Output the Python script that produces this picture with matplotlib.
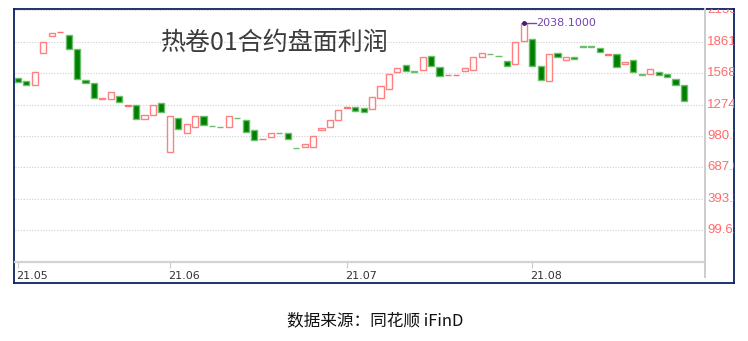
import matplotlib
matplotlib.use("Agg")
import matplotlib.pyplot as plt
import matplotlib.transforms as mtrans
from matplotlib.lines import Line2D
from matplotlib.transforms import blended_transform_factory
from matplotlib import font_manager

# ---------------- data ----------------
title = "热卷01合约盘面利润"
source = "数据来源：同花顺 iFinD"

opens = [1525, 1494, 1457, 1759, 1915, 1950, 1924, 1791, 1504, 1476,
         1323, 1329, 1357, 1265, 1267, 1137, 1174, 1286, 834, 1149,
         1006, 1062, 1165, 1074, 1066, 1067, 1153, 1128, 1034, 953,
         971, 1013, 1006, 873, 881, 881, 1037, 1067, 1130, 1243,
         1249, 1239, 1233, 1338, 1417, 1581, 1647, 1587, 1600, 1725,
         1625, 1546, 1551, 1585, 1600, 1722, 1749, 1732, 1684, 1653,
         1866, 1887, 1635, 1494, 1759, 1695, 1722, 1819, 1817, 1806,
         1742, 1744, 1651, 1691, 1559, 1560, 1578, 1557, 1516, 1454]
closes = [1488, 1460, 1576, 1856, 1946, 1953, 1793, 1510, 1473, 1338,
          1338, 1392, 1295, 1269, 1137, 1174, 1267, 1208, 1163, 1043,
          1097, 1165, 1079, 1070, 1063, 1170, 1149, 1021, 943, 957,
          1009, 1009, 955, 869, 903, 983, 1058, 1130, 1228, 1247,
          1214, 1205, 1342, 1448, 1563, 1613, 1588, 1583, 1716, 1637,
          1538, 1550, 1555, 1616, 1719, 1758, 1745, 1728, 1639, 1862,
          2038.1, 1635, 1504, 1744, 1722, 1722, 1700, 1815, 1813, 1763,
          1746, 1628, 1675, 1579, 1555, 1609, 1551, 1535, 1457, 1310]

month_labels = ["21.05", "21.06", "21.07", "21.08"]
month_index = [0, 18, 39, 61]

ytick_values = [99.62, 393.3, 687.0, 980.7, 1274.3, 1568.0, 1861.7, 2155.4]
ytick_labels = ["99.62", "393.3", "687.0", "980.7", "1274", "1568", "1861", "2155"]

max_value = 2038.1
max_label = "2038.1000"

# ---------------- fonts ----------------
installed = {f.name for f in font_manager.fontManager.ttflist}
if "Liberation Sans Narrow" in installed:
    ylab_font, ylab_size = "Liberation Sans Narrow", 10.3
else:
    ylab_font, ylab_size = "Liberation Sans", 9.5

# ---------------- figure ----------------
W, H = 748, 341
fig = plt.figure(figsize=(W / 100, H / 100), dpi=100)
fig.patch.set_facecolor("white")

def fx(px):
    return px / W

def fy(py):
    return 1 - py / H

# outer navy frame
frame_ax = fig.add_axes([fx(14), fy(282.7), fx(734) - fx(14), fy(9.3) - fy(282.7)])
frame_ax.set_xticks([])
frame_ax.set_yticks([])
frame_ax.set_facecolor("white")
for s in frame_ax.spines.values():
    s.set_color("#0d2160")
    s.set_linewidth(1.3)
frame_ax.set_zorder(0)

# main plot axes
ax = fig.add_axes([fx(15), fy(262), fx(705) - fx(15), fy(9.3) - fy(262)])
ax.set_zorder(1)
ax.patch.set_alpha(0)
n = len(opens)
x = list(range(n))
ax.set_xlim(-0.36, 81.5)
ax.set_ylim(-197, 2164.5)

for v in ytick_values:
    ax.axhline(v, color="#cfcfcf", lw=0.8, ls=(0, (1, 1.5)), zorder=0)

up_edge = "#ff8080"
dn_face = "#007f00"
dn_edge = "#6cc06c"
w = 0.72
for i in x:
    o, c = opens[i], closes[i]
    h = c - o
    if abs(h) < 10:
        col = "#ff6f6f" if h >= 0 else "#6cc06c"
        ax.bar(i, max(abs(h), 3), bottom=min(o, c), width=w, color=col,
               edgecolor=col, linewidth=1.0, zorder=3)
    elif h > 0:
        ax.bar(i, h, bottom=o, width=w, facecolor="white", edgecolor=up_edge,
               linewidth=1.0, zorder=3)
    else:
        ax.bar(i, h, bottom=o, width=w, facecolor=dn_face, edgecolor=dn_edge,
               linewidth=1.0, zorder=3)

# max annotation
imax = closes.index(max_value)
ax.plot([imax, imax + 1.45], [max_value, max_value], color="#7445b0", lw=1.0, zorder=4)
ax.plot([imax], [max_value], marker="o", ms=2.5, color="#3f1f6e", zorder=5)
ax.text(imax + 1.5, max_value, max_label, color="#7445b0", fontsize=8,
        family="DejaVu Sans", va="center", ha="left", zorder=5)

# spines / ticks
for side in ["top", "left", "right"]:
    ax.spines[side].set_visible(False)
ax.spines["bottom"].set_color("#d2d2d2")
ax.spines["bottom"].set_linewidth(1.6)
ax.set_yticks([])
ax.set_xticks(month_index)
ax.set_xticklabels(month_labels)
ax.tick_params(axis="x", direction="out", length=4, width=0.8, color="#c8c8c8",
               pad=2.5, labelsize=8, labelcolor="#333333")
off = mtrans.ScaledTranslation(-2 / 100, 0, fig.dpi_scale_trans)
for lab in ax.get_xticklabels():
    lab.set_ha("left")
    lab.set_family("DejaVu Sans")
    lab.set_transform(lab.get_transform() + off)

# right gray axis line
fig.add_artist(Line2D([fx(705), fx(705)], [fy(277), fy(9.3)], color="#cccccc", lw=1.4,
                      transform=fig.transFigure, zorder=2))

# right labels, clipped by frame
trans = blended_transform_factory(fig.transFigure, ax.transData)
for v, s in zip(ytick_values, ytick_labels):
    t = frame_ax.text(fx(707), v, s, transform=trans, color="#ff6b6b", fontsize=ylab_size,
                      family=ylab_font, va="center", ha="left", clip_on=True)
    t.set_clip_box(frame_ax.bbox)

# title inside plot
fig.text(fx(161), fy(43), title, fontsize=18, color="#3c3c3c",
         family=["Noto Sans CJK SC", "DejaVu Sans"], va="center", ha="left", zorder=10)

# caption
fig.text(fx(375), fy(321), source, fontsize=12, color="#111111",
         family=["Noto Sans CJK SC", "DejaVu Sans"], va="center", ha="center")

fig.savefig("out.png", dpi=100)
